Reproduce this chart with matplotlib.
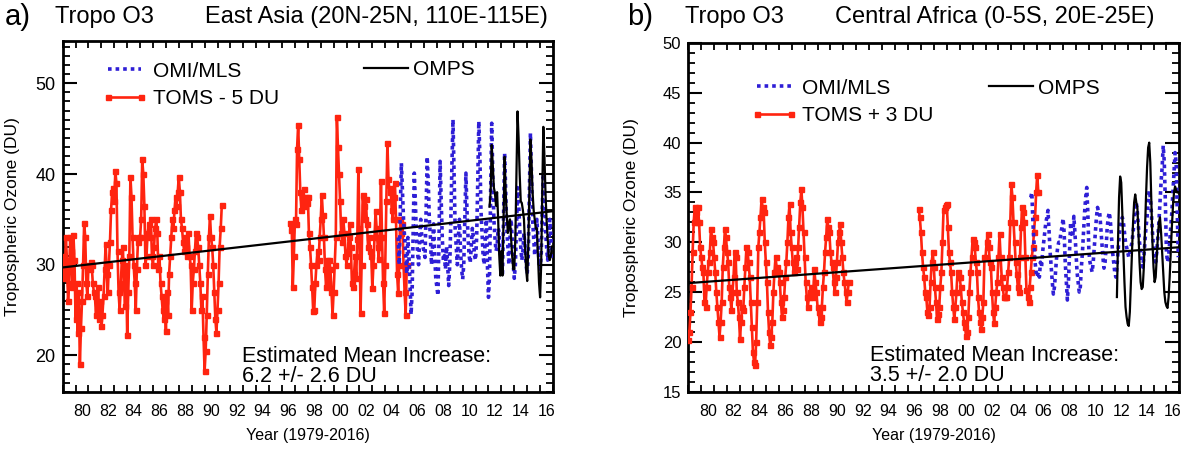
import numpy as np
import matplotlib
matplotlib.use('Agg')
import matplotlib.pyplot as plt
from matplotlib.ticker import MultipleLocator, FixedLocator
from matplotlib.lines import Line2D

plt.rcParams['font.family'] = ['Liberation Sans', 'DejaVu Sans']

# ---------------- data (monthly values, DU) ----------------
# Panel a: East Asia
toms_a_start = 1979.0
toms_a = [29.5, 31, 28.5, 33, 30.5, 26, 28, 33, 31.5, 27.5, 33.3, 30.5,
          24, 28, 22.5, 27, 19, 23, 26, 30, 34.6, 33, 28, 26.5,
          30, 29.5, 30.3, 30, 28, 27, 26.5, 24.5, 25, 27.5, 24, 26,
          23.2, 24.5, 26.5, 29.5, 32.3, 29, 27, 30, 32.5, 36, 38, 38.5,
          37, 40.3, 39, 31.5, 27, 25, 27.5, 30.5, 32, 28, 25.5, 30,
          22.3, 27, 31, 39.7, 37.5, 33, 30, 28, 25, 29.5, 32.5, 33,
          33, 35, 41.6, 40, 36.5, 30, 31, 33.5, 34.5, 33, 35, 31,
          30, 32, 34, 35, 33.5, 29.5, 31, 28, 26.5, 25, 24, 26,
          22.7, 27, 24.5, 29, 31, 33, 35, 34, 36, 37.5, 36.5, 38,
          39.7, 38, 35, 34, 32.5, 31.5, 33, 32, 31, 33.5, 31, 30,
          25, 28, 29.5, 31.5, 33.5, 33, 32, 30, 28, 25, 26.5, 22,
          18.3, 20.5, 24.5, 29, 33, 35.4, 33, 32, 30, 27, 24, 22.5,
          25, 28, 32, 34, 36.6]
eptoms_a_start = 1996 + 7 / 12
eptoms_a = [34.6, 33.8, 34.5, 27.5, 31,
            35, 34.5, 42.8, 45.4, 41.7, 38, 36, 37.5, 38.3, 36.5, 37.5, 36.8,
            37.5, 33.5, 32, 30, 27.5, 24.9, 25, 28, 30, 31.5, 30.5, 33,
            35, 37.7, 35.5, 33, 29.5, 27.5, 30.5, 28, 30.5, 29.5, 27, 24.5,
            27, 30, 33, 46.3, 43, 40, 37, 33.5, 32.5, 35, 33.5, 31,
            30, 31.3, 33, 34.5, 32, 28, 27.5, 29, 31, 28.5, 32.8, 40.6,
            34, 24.7, 30, 37.7, 36.5, 35, 37.2, 34.5, 32, 33, 31.5, 31,
            27.4, 30, 33, 35.9, 34, 32, 30.6, 33, 39.2, 33, 28, 24.7,
            30, 37, 43.4, 39.4, 38, 38.5, 36, 35, 37.5, 39, 35, 29,
            26.9, 30, 35, 33.5, 34.5, 30, 27, 24.5, 30]
omi_a_start = 2005.0
omi_a = [33, 30, 36, 41.2, 38, 35, 33, 31, 29, 33, 31, 28,
         24.5, 27, 34, 40.1, 37, 33, 31.5, 30, 33, 35, 33, 32,
         31.5, 30.8, 36, 41.9, 39, 35, 33, 30, 32, 34.5, 31, 28.5,
         27.5, 26.6, 33, 41.4, 37, 33, 30.5, 31, 29.5, 32, 30, 27.7,
         30, 35, 41, 46, 40, 34, 32, 30, 33, 35, 31.5, 29.5,
         28.4, 30, 35, 40.1, 36, 33, 31, 30.2, 32, 34, 33, 31,
         30.5, 33, 39, 45.8, 42, 36, 33.5, 31, 30, 33, 35, 30,
         26.4, 29, 38, 45.6, 40, 35, 33, 31.5, 32, 34, 33.5, 31,
         30, 29, 35, 42.3, 38, 34, 32, 30, 33, 35, 33, 30,
         28.5, 30, 34, 38.5, 37, 34, 32, 30.5, 31.5, 33.5, 32, 30,
         29, 31, 38, 44.5, 40, 35, 33, 31, 32.5, 35, 33, 30,
         29.5, 31, 36, 40, 37.5, 34, 32, 30.5, 32, 35, 33, 30.5]
omps_a_start = 2012 + 1 / 12
omps_a = [36.4, 38, 43.2, 41, 38.5, 37.9, 36.5, 38, 35, 31, 28.8,
          31.5, 28.8, 35, 41.9, 38, 35.5, 33.5, 34.5, 35, 33, 31, 29.5,
          29.5, 33, 40, 46.9, 44, 40, 37, 36.8, 36, 35, 32, 29.5,
          28.2, 32, 38, 43.8, 41.5, 38, 36, 35, 34, 34, 31, 28,
          26.4, 30, 38, 45.2, 42, 38, 35, 33, 31, 30.5, 31, 32]
trend_years = [1979, 2017]
trend_a = [29.7, 35.9]

# Panel b: Central Africa
toms_b_start = 1979.0
toms_b = [20.2, 21, 23, 25.5, 29, 32, 33.5, 33, 32, 33.5, 32, 29.5,
          28.5, 27.5, 27, 24, 23.5, 25.5, 27, 28, 29, 31.3, 30.5, 30,
          28.5, 27, 25, 23.5, 22, 20.5, 22, 24, 27.5, 29.5, 31.3, 30.5,
          29, 28, 25.5, 24.5, 23.2, 25, 26.5, 29, 28.5, 25, 24, 22.5,
          20.3, 22, 23.5, 23.2, 25.5, 27.5, 29.5, 29, 28, 26.5, 24, 21.5,
          19, 18, 17.7, 20, 24, 29.5, 31, 32.5, 34.3, 33.5, 33, 30,
          28, 26, 23, 21, 19.7, 20.5, 22, 25, 27, 28.5, 27.5, 27,
          27, 26, 24, 22.5, 23.2, 24.5, 26.5, 28, 30, 32.5, 33.8, 31,
          29.5, 28, 27, 28, 28.5, 27.3, 29.5, 31.5, 34, 35.3, 33.5, 31,
          28.5, 26, 24.5, 23.5, 24.5, 25, 25.5, 25, 24.5, 27.3, 26, 25,
          23.5, 23, 22, 22.5, 23.5, 25.5, 27, 29, 30.5, 32.3, 31.5, 31,
          29, 28, 27.5, 26, 25, 26.5, 28, 30, 31, 31.8, 30, 28.5,
          27, 26, 25, 24, 25, 26]
eptoms_b_start = 1996 + 10 / 12
eptoms_b = [33.3, 32.5,
            31, 29, 27.5, 26.5, 25, 24.5, 23, 22.7, 23.5, 26, 28, 29,
            27.5, 25.5, 24, 22.3, 22.8, 23.5, 25.5, 27, 30, 33.2, 33.5, 33.7,
            33.8, 31.5, 29, 28, 27, 25, 23.5, 22.3, 23.5, 25, 27, 26.5,
            26.5, 25.5, 24, 23, 22, 21.5, 20.6, 21, 22.5, 25, 27, 28.5,
            30.3, 30, 29.5, 28, 27, 24.5, 23, 22, 21.3, 22.5, 24, 28.5,
            28.5, 30, 30.8, 29.5, 28, 27.5, 25, 23, 21.9, 23.5, 25, 26,
            28.5, 30.8, 28.5, 26.5, 25.5, 24.5, 24.5, 24.5, 25.5, 27, 28.5, 32,
            35.8, 34.5, 32, 30, 28, 26.8, 25.5, 25, 28.5, 31.5, 33.5, 33,
            32, 28.5, 25.2, 24.5, 24, 25.5, 27, 28.5, 29.5, 31, 32.5, 35,
            36.8, 35]
omi_b_start = 2005.5
omi_b = [34.5, 35, 32, 30, 28, 27,
         26.5, 27, 26.5, 28, 27.5, 29, 30, 31, 32, 32.5, 33.2, 31,
         29, 27.5, 26, 24.8, 25.5, 27, 28.5, 29.5, 30, 30, 31, 31.5,
         32.4, 31, 28, 26, 24.2, 26, 29, 32, 31, 30.5, 32.6, 31,
         29, 27, 26, 25, 25.5, 27.5, 29, 31, 33, 34.5, 35.5, 33,
         29, 28, 27.5, 27, 28, 29.5, 31, 32.5, 33.5, 33, 33, 31.5,
         30, 28.5, 27.4, 28, 29.5, 31.5, 32.5, 33, 32, 30.5, 29, 28,
         27, 26.5, 27.5, 29, 30.5, 31.5, 32, 32.5, 32, 31, 30, 29.5,
         29, 28.5, 29, 29.5, 30, 31, 32, 33.5, 34, 33, 31.5, 30,
         29, 28, 27.5, 28.5, 30, 31.5, 32.5, 34, 35.2, 34.5, 33, 31,
         29.5, 28.5, 28, 29, 30.5, 32, 34, 36, 37.5, 39.7, 38, 34,
         29, 28, 28.5, 30, 31.5, 33, 35, 37, 39, 38, 33, 28.5]
omps_b_start = 2012 + 2 / 12
omps_b = [24.5, 30, 34.5, 36.6, 36, 33, 29, 26, 23.5, 22.5,
          21.8, 21.6, 23, 26, 29, 32, 34, 34.8, 34, 33.5, 31, 28,
          26, 25.3, 25.5, 27.5, 31, 34.5, 37.5, 39.5, 40, 38, 34, 30,
          27.5, 26, 26.5, 28.5, 30.5, 32, 32.5, 31, 29, 27, 25, 24,
          23.6, 23.4, 24.5, 26.5, 29, 31.5, 33.5, 35, 35.6, 35.2, 35, 35]
trend_b = [25.9, 29.5]

label_years = list(range(1980, 2017, 2))
label_text = ['%02d' % (y % 100) for y in label_years]

RED = '#ff2410'
BLUE = '#2e1ed6'


def months(start, vals):
    return start + np.arange(len(vals)) / 12.0


fig = plt.figure(figsize=(11.89, 4.5), dpi=100)
axa = fig.add_axes([0.0527, 0.1296, 0.4124, 0.7800])
axb = fig.add_axes([0.5789, 0.1296, 0.4130, 0.7748])


def draw(ax, toms1, t1s, toms2, t2s, omi, tos, omps, tps, trend, ylim, ymaj,
         ylabsize, toms_label, leg1_anchor, leg2_anchor, txt_xy, txt2, ylab_x):
    ax.plot(months(t1s, toms1), toms1, color=RED, lw=1.9, marker='s', ms=3.6,
            mfc=RED, mec=RED, zorder=3)
    ax.plot(months(t2s, toms2), toms2, color=RED, lw=1.9, marker='s', ms=3.6,
            mfc=RED, mec=RED, zorder=3)
    ax.plot(months(tos, omi), omi, color=BLUE, lw=2.6, ls=(0, (1.0, 1.1)),
            dash_capstyle='butt', zorder=4)
    ax.plot(months(tps, omps), omps, color='black', lw=1.6, zorder=5)
    ax.plot(trend_years, trend, color='black', lw=1.6, zorder=6)

    ax.set_xlim(1979, 2017)
    ax.set_ylim(*ylim)
    ax.xaxis.set_major_locator(FixedLocator([y + 0.5 for y in label_years]))
    ax.set_xticklabels(label_text)
    ax.xaxis.set_minor_locator(MultipleLocator(1))
    ax.yaxis.set_major_locator(MultipleLocator(ymaj))
    ax.yaxis.set_minor_locator(MultipleLocator(1))
    ax.tick_params(axis='x', which='major', length=0, labelsize=11.5, pad=9)
    ax.tick_params(axis='x', which='minor', direction='in', length=5, width=1.3,
                   top=True, bottom=True)
    ax.tick_params(axis='y', which='major', direction='in', length=10, width=1.5,
                   left=True, right=True, labelsize=ylabsize, pad=5)
    ax.tick_params(axis='y', which='minor', direction='in', length=5, width=1.3,
                   left=True, right=True)
    for s in ax.spines.values():
        s.set_linewidth(2.0)
    ax.set_xlabel('Year (1979-2016)', fontsize=11.5, labelpad=6)
    ax.set_ylabel('Tropospheric Ozone (DU)', fontsize=12.5)
    ax.yaxis.set_label_coords(ylab_x, 0.5)

    h1 = Line2D([], [], color=BLUE, lw=2.6, ls=(0, (1.0, 1.1)), dash_capstyle='butt')
    h2 = Line2D([], [], color=RED, lw=1.9, marker='s', ms=3.6, mfc=RED, mec=RED)
    h3 = Line2D([], [], color='black', lw=1.6)
    lg1 = ax.legend([h1, h2], ['OMI/MLS', toms_label], loc='upper left',
                    bbox_to_anchor=leg1_anchor, frameon=False, fontsize=15,
                    handlelength=2.2, handletextpad=0.25, labelspacing=0.4,
                    borderpad=0, borderaxespad=0, numpoints=2)
    ax.add_artist(lg1)
    ax.legend([h3], ['OMPS'], loc='upper left', bbox_to_anchor=leg2_anchor,
              frameon=False, fontsize=15, handlelength=2.1, handletextpad=0.25,
              borderpad=0, borderaxespad=0)
    ax.text(txt_xy[0], txt_xy[1], 'Estimated Mean Increase:\n' + txt2,
            transform=ax.transAxes, fontsize=15.5, ha='left', va='bottom',
            linespacing=0.95)


draw(axa, toms_a, toms_a_start, eptoms_a, eptoms_a_start, omi_a, omi_a_start,
     omps_a, omps_a_start, trend_a, (16, 54.7), 10, 13, 'TOMS - 5 DU',
     (0.08, 0.94), (0.615, 0.945), (0.365, 0.014), '6.2 +/- 2.6 DU', -0.087)
draw(axb, toms_b, toms_b_start, eptoms_b, eptoms_b_start, omi_b, omi_b_start,
     omps_b, omps_b_start, trend_b, (15, 50), 5, 12, 'TOMS + 3 DU',
     (0.128, 0.898), (0.612, 0.898), (0.37, 0.016), '3.5 +/- 2.0 DU', -0.1)

fig.text(0.004, 0.962, 'a)', fontsize=21, va='center', ha='left')
fig.text(0.046, 0.962, 'Tropo O3', fontsize=17, va='center', ha='left')
fig.text(0.172, 0.962, 'East Asia (20N-25N, 110E-115E)', fontsize=17,
         va='center', ha='left')
fig.text(0.527, 0.962, 'b)', fontsize=21, va='center', ha='left')
fig.text(0.576, 0.962, 'Tropo O3', fontsize=17, va='center', ha='left')
fig.text(0.702, 0.962, 'Central Africa (0-5S, 20E-25E)', fontsize=17,
         va='center', ha='left')

fig.savefig('out.png', dpi=100)
